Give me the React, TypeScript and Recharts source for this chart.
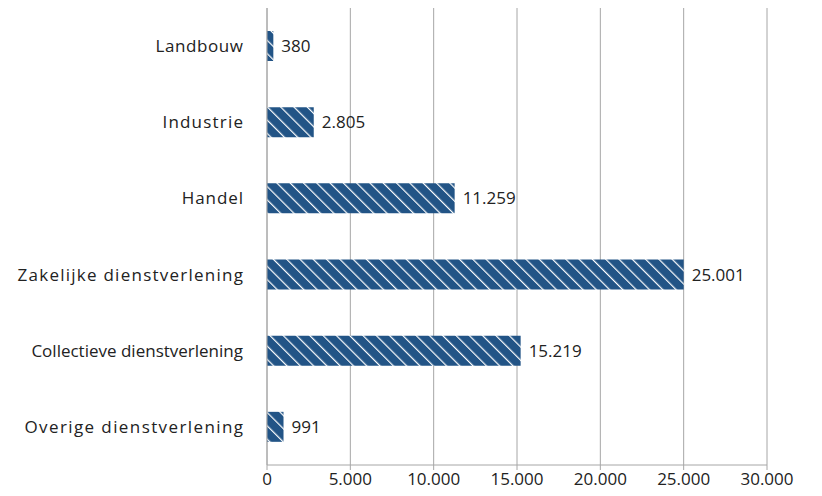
import React from "react";
import { BarChart, Bar, XAxis, YAxis, CartesianGrid, LabelList } from "recharts";

const sectors = [
  "Landbouw",
  "Industrie",
  "Handel",
  "Zakelijke dienstverlening",
  "Collectieve dienstverlening",
  "Overige dienstverlening",
];
const values = [380, 2805, 11259, 25001, 15219, 991];
const xTicks = [0, 5000, 10000, 15000, 20000, 25000, 30000];

const data = sectors.map((name, i) => ({ name, value: values[i] }));

const fmt = (v: number) => v.toLocaleString("nl-NL");

const FONT = "'Open Sans', sans-serif";
const GRID = "#a6a6a6";
const TEXT = "#222";

// the source labels are spaced a little unevenly
const labelSpacing: Record<string, number> = {
  Landbouw: 0.6,
  Industrie: 1.2,
  Handel: 0.9,
  "Zakelijke dienstverlening": 1.25,
  "Collectieve dienstverlening": 0,
  "Overige dienstverlening": 1.4,
};

function SectorTick(props: any) {
  const { x, y, payload } = props;
  const ls = labelSpacing[payload.value] ?? 0;
  return (
    <text
      x={x + ls}
      y={y}
      dy="0.355em"
      textAnchor="end"
      fill={TEXT}
      fontSize={17}
      fontFamily={FONT}
      style={{ letterSpacing: ls }}
    >
      {payload.value}
    </text>
  );
}

export default function App() {
  return (
    <div style={{ position: "absolute", top: 0, left: 0, width: 822, height: 496, background: "#fff", fontFamily: FONT }}>
      <BarChart
        width={822}
        height={496}
        data={data}
        layout="vertical"
        margin={{ top: 8, right: 55, bottom: 0, left: 0 }}
        barCategoryGap={0}
      >
        <defs>
          <pattern id="hatch" patternUnits="userSpaceOnUse" width={9.4} height={9.4} patternTransform="rotate(-45)">
            <rect x={0} y={0} width={9.4} height={9.4} fill="#225486" />
            <rect x={0} y={0} width={1.2} height={9.4} fill="#ffffff" />
          </pattern>
        </defs>
        <CartesianGrid horizontal={false} stroke={GRID} />
        <XAxis
          type="number"
          domain={[0, 30000]}
          ticks={xTicks}
          tickFormatter={fmt}
          height={31}
          tickSize={5}
          tickMargin={3}
          stroke={GRID}
          tick={{ fill: TEXT, fontSize: 17, fontFamily: FONT }}
        />
        <YAxis
          type="category"
          dataKey="name"
          width={267}
          tickLine={false}
          tickSize={0}
          tickMargin={24}
          stroke={GRID}
          tick={<SectorTick />}
        />
        <Bar dataKey="value" fill="url(#hatch)" barSize={30} isAnimationActive={false}>
          <LabelList
            dataKey="value"
            position="right"
            offset={8}
            formatter={(v: any) => fmt(Number(v))}
            style={{ fill: TEXT, fontSize: 17, fontFamily: FONT }}
          />
        </Bar>
      </BarChart>
    </div>
  );
}
